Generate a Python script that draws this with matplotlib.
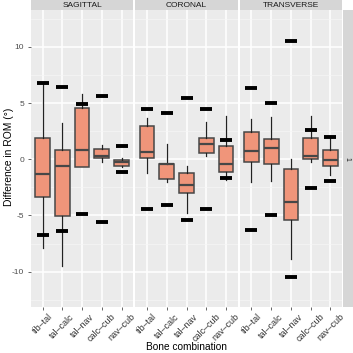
import matplotlib.pyplot as plt
import numpy as np

plt.rcParams['font.family'] = ['Liberation Sans', 'DejaVu Sans']

planes = ['SAGITTAL', 'CORONAL', 'TRANSVERSE']
combos = ['tib\u2013tal', 'tal\u2013calc', 'tal\u2013nav', 'calc\u2013cub', 'nav\u2013cub']

# box statistics per plane (rows) and bone combination (columns)
q1 = [[-3.38, -5.08, -0.71, 0.12, -0.62],
      [0.15, -1.73, -3.03, 0.59, -1.16],
      [-0.21, -0.39, -5.43, 0.00, -0.57]]
med = [[-1.31, -0.62, 0.86, 0.32, -0.21],
       [0.62, -0.45, -2.29, 1.36, -0.45],
       [0.77, 1.03, -3.80, 0.29, -0.06]]
q3 = [[1.92, 0.80, 4.57, 0.95, -0.09],
      [2.97, -0.39, -1.25, 1.92, 1.18],
      [2.40, 1.78, -0.84, 1.87, 0.80]]
whislo = [[-7.87, -9.47, -0.71, -0.21, -0.71],
          [-1.19, -1.99, -4.81, 0.32, -1.84],
          [-1.99, -1.93, -8.85, -0.21, -1.40]]
whishi = [[6.77, 3.26, 5.79, 1.27, 0.09],
          [3.71, 1.36, -0.60, 3.29, 3.83],
          [3.56, 3.74, 0.03, 3.86, 1.96]]
# limits of agreement (black dashes)
loa_hi = [[6.77, 6.47, 4.95, 5.64, 1.16],
          [4.45, 4.15, 5.43, 4.45, 1.72],
          [6.35, 5.04, 10.53, 2.61, 1.96]]
loa_lo = [[-6.71, -6.38, -4.87, -5.58, -1.10],
          [-4.40, -4.07, -5.38, -4.40, -1.67],
          [-6.30, -4.96, -10.51, -2.56, -1.91]]

W, H = 353, 353
fig = plt.figure(figsize=(W / 100, H / 100), dpi=100)

left, right = 30.7, 342.3
gap = 1.8
pw = (right - left - 2 * gap) / 3
ptop, pbot = 10, 307
ylim = (-13.15, 13.29)

panel_bg = '#EBEBEB'
strip_bg = '#D6D6D6'
box_fill = '#F0957A'
box_edge = '#474747'

for p, plane in enumerate(planes):
    x0 = left + p * (pw + gap)
    ax = fig.add_axes([x0 / W, 1 - pbot / H, pw / W, (pbot - ptop) / H])
    ax.set_facecolor(panel_bg)
    for s in ax.spines.values():
        s.set_visible(False)

    pos = np.arange(1, len(combos) + 1)
    stats = []
    for i, c in enumerate(combos):
        stats.append(dict(label=c, med=med[p][i], q1=q1[p][i], q3=q3[p][i],
                          whislo=whislo[p][i], whishi=whishi[p][i], fliers=[]))
    ax.bxp(stats, positions=pos, widths=0.75, patch_artist=True,
           showcaps=False, showfliers=False,
           boxprops=dict(facecolor=box_fill, edgecolor=box_edge, linewidth=1.1),
           medianprops=dict(color=box_edge, linewidth=1.6),
           whiskerprops=dict(color='#222222', linewidth=0.9))
    ax.plot(pos, loa_hi[p], ls='none', marker='_', ms=8, mew=2.8, color='black', zorder=4)
    ax.plot(pos, loa_lo[p], ls='none', marker='_', ms=8, mew=2.8, color='black', zorder=4)

    ax.set_xlim(0.4, 5.6)
    ax.set_ylim(*ylim)
    ax.set_yticks([-10, -5, 0, 5, 10])
    ax.set_yticks([-12.5, -7.5, -2.5, 2.5, 7.5, 12.5], minor=True)
    ax.grid(True, which='major', color='white', lw=1.1)
    ax.grid(True, which='minor', axis='y', color='#F6F6F6', lw=0.5)
    ax.set_axisbelow(True)
    ax.set_xticks(pos)
    ax.set_xticklabels(combos, rotation=45, ha='center', va='top',
                       fontsize=6.5, color='#333333')
    ax.tick_params(axis='both', which='major', length=2.2, width=0.6,
                   color='#4D4D4D', pad=1.5)
    ax.tick_params(axis='y', which='minor', length=0)
    if p == 0:
        ax.set_yticklabels(['-10', '-5', '0', '5', '10'], fontsize=6, color='#4D4D4D')
        ax.tick_params(axis='y', pad=2.5)
    else:
        ax.tick_params(axis='y', which='major', length=0, labelleft=False)

    sax = fig.add_axes([x0 / W, 1 - ptop / H, pw / W, ptop / H])
    sax.set_facecolor(strip_bg)
    sax.set_xticks([])
    sax.set_yticks([])
    for s in sax.spines.values():
        s.set_visible(False)
    sax.text(0.5, 0.45, plane, ha='center', va='center', fontsize=6,
             color='#1A1A1A', transform=sax.transAxes)

# right-hand row strip
rax = fig.add_axes([343 / W, 1 - pbot / H, 12 / W, (pbot - ptop) / H])
rax.set_facecolor(strip_bg)
rax.set_xticks([])
rax.set_yticks([])
for s in rax.spines.values():
    s.set_visible(False)
rax.text(0.35, 0.5, '1', rotation=-90, ha='center', va='center', fontsize=5,
         color='#1A1A1A', transform=rax.transAxes)

fig.text(9 / W, 1 - 157 / H, 'Difference in ROM (\u00b0)', rotation=90,
         ha='center', va='center', fontsize=7.4)
fig.text(186 / W, 1 - 350 / H, 'Bone combination', ha='center', va='baseline',
         fontsize=7.3)

fig.savefig('out.png', dpi=100)
